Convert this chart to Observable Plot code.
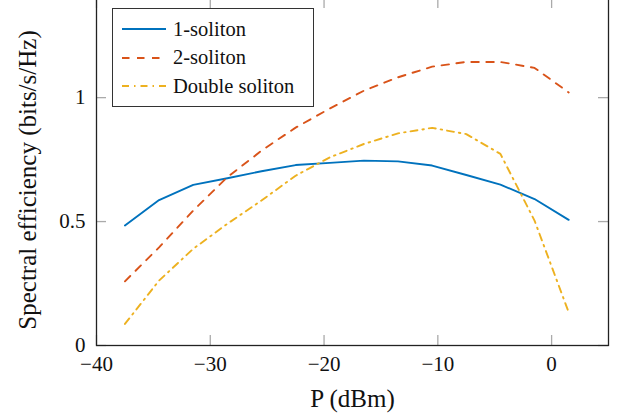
<!DOCTYPE html>
<html>
<head>
<meta charset="utf-8">
<script src="https://cdn.jsdelivr.net/npm/d3@7"></script>
<script src="https://cdn.jsdelivr.net/npm/@observablehq/plot@0.6"></script>
<style>
  html, body { margin: 0; padding: 0; background: #fff; }
  #wrap { position: relative; width: 620px; height: 417px; overflow: hidden; }
  #wrap svg.plot { display: block; margin-top: -4px; }
  #wrap svg.plot text { font-family: "Liberation Serif", "Times New Roman", "DejaVu Serif", serif; }
  #legend {
    position: absolute; left: 112px; top: 8px; width: 202px; height: 99px;
    border: 1.3px solid #333; background: #fff; box-sizing: border-box;
    font-family: "Liberation Serif", "Times New Roman", "DejaVu Serif", serif; font-size: 20.5px; color: #111;
  }
  .entry { position: absolute; left: 0; height: 28px; display: flex; align-items: center; white-space: nowrap; }
  .entry svg { margin-left: 9px; margin-right: 7px; }
</style>
</head>
<body>
<div id="wrap"></div>
<script>
// Data
const P = [-37.5, -34.5, -31.5, -28.5, -25.5, -22.5, -19.5, -16.5, -13.5, -10.5, -7.5, -4.5, -1.5, 1.5];
const oneSoliton    = [0.484, 0.587, 0.648, 0.675, 0.703, 0.728, 0.737, 0.746, 0.743, 0.726, 0.688, 0.649, 0.591, 0.507];
const twoSoliton    = [0.259, 0.396, 0.544, 0.679, 0.786, 0.879, 0.956, 1.028, 1.082, 1.125, 1.144, 1.144, 1.120, 1.021];
const doubleSoliton = [0.087, 0.262, 0.390, 0.491, 0.585, 0.685, 0.759, 0.813, 0.856, 0.878, 0.853, 0.773, 0.504, 0.134];
const seriesNames = ["1-soliton", "2-soliton", "Double soliton"];
const xTicks = [-40, -30, -20, -10, 0];
const yTicks = [0, 0.5, 1];
const xLabel = "P (dBm)";
const yLabel = "Spectral efficiency (bits/s/Hz)";

const colors = ["#0072BD", "#D95319", "#EDB120"];
const dashes = [null, "7.5,7.5", "7,5,1.5,5"];

const allSeries = [oneSoliton, twoSoliton, doubleSoliton];
const rows = allSeries.map((vals, i) => P.map((p, j) => ({p, v: vals[j], s: seriesNames[i]})));

const W = 620, H = 421, mL = 96, mR = 12, mT = 2, mB = 72;
const plotH = H - mT - mB, plotW = W - mL - mR;
const tickLen = 10;
const serif = "'Liberation Serif', 'Times New Roman', 'DejaVu Serif', serif";

const chart = Plot.plot({
  width: W, height: H,
  marginLeft: mL, marginRight: mR, marginTop: mT, marginBottom: mB,
  style: {fontFamily: serif, fontSize: "21px", color: "#111", background: "#fff", overflow: "visible"},
  x: {domain: [-40, 5]},
  y: {domain: [0, 1.4]},
  marks: [
    // inward ticks on all four sides
    Plot.tickX(xTicks, {x: d => d, stroke: "#aaa", strokeWidth: 1.3, insetTop: plotH - tickLen}),
    Plot.tickX(xTicks, {x: d => d, stroke: "#aaa", strokeWidth: 1.3, insetBottom: plotH - tickLen}),
    Plot.tickY(yTicks, {y: d => d, stroke: "#aaa", strokeWidth: 1.3, insetRight: plotW - tickLen}),
    Plot.tickY(yTicks, {y: d => d, stroke: "#aaa", strokeWidth: 1.3, insetLeft: plotW - tickLen}),
    Plot.axisX(xTicks, {tickSize: 0, tickPadding: 11, label: null, fontSize: 21}),
    Plot.axisY(yTicks, {tickSize: 0, tickPadding: 11, label: null, fontSize: 21, tickFormat: d => String(d)}),
    ...rows.map((data, i) => Plot.line(data, {
      x: "p", y: "v", stroke: colors[i], strokeWidth: 1.9,
      strokeDasharray: dashes[i] || undefined, strokeLinejoin: "round"
    })),
    Plot.frame({stroke: "#222", strokeWidth: 1.3}),
    Plot.text([xLabel], {text: d => d, frameAnchor: "bottom", dy: 53, fontSize: 25, lineAnchor: "middle", textAnchor: "middle", fill: "#111"}),
    Plot.text([yLabel], {text: d => d, frameAnchor: "left", dx: -69, dy: 8, rotate: -90, fontSize: 25, lineAnchor: "middle", textAnchor: "middle", fill: "#111"})
  ]
});
chart.classList.add("plot");
document.getElementById("wrap").appendChild(chart);

// Legend (HTML overlay inside the axes)
const legend = document.createElement("div");
legend.id = "legend";
seriesNames.forEach((name, i) => {
  const e = document.createElement("div");
  e.className = "entry";
  e.style.top = (6 + i * 28.5) + "px";
  const ns = "http://www.w3.org/2000/svg";
  const s = document.createElementNS(ns, "svg");
  s.setAttribute("width", 44); s.setAttribute("height", 6);
  const l = document.createElementNS(ns, "line");
  l.setAttribute("x1", 0); l.setAttribute("x2", 44);
  l.setAttribute("y1", 3); l.setAttribute("y2", 3);
  l.setAttribute("stroke", colors[i]); l.setAttribute("stroke-width", 1.9);
  if (dashes[i]) l.setAttribute("stroke-dasharray", dashes[i]);
  s.appendChild(l);
  e.appendChild(s);
  const t = document.createElement("span");
  t.textContent = name;
  e.appendChild(t);
  legend.appendChild(e);
});
document.getElementById("wrap").appendChild(legend);
</script>
</body>
</html>
